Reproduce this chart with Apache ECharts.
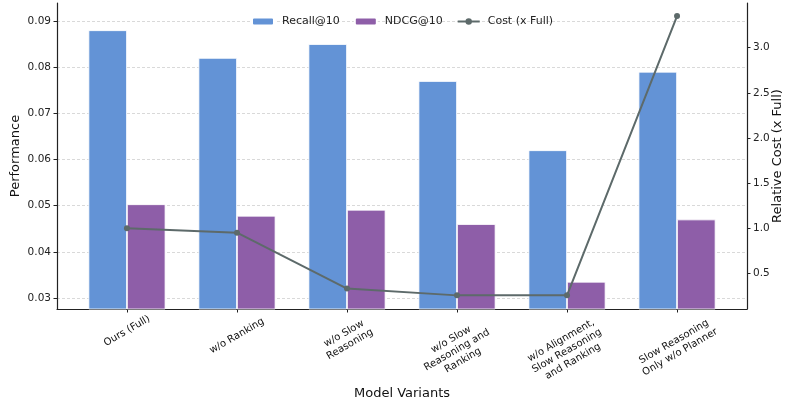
<!DOCTYPE html>
<html>
<head>
<meta charset="utf-8">
<script src="https://cdn.jsdelivr.net/npm/echarts@6/dist/echarts.min.js"></script>
<style>
  html, body { margin: 0; padding: 0; background: #fff; }
  #chart { width: 788px; height: 402px; }
</style>
</head>
<body>
<div id="chart"></div>
<script>
// data
var variants = [
  'Ours (Full)',
  'w/o Ranking',
  'w/o Slow\nReasoning',
  'w/o Slow\nReasoning and\nRanking',
  'w/o Alignment,\nSlow Reasoning\nand Ranking',
  'Slow Reasoning\nOnly w/o Planner'
];
var recall = [0.088, 0.082, 0.085, 0.077, 0.062, 0.079];
var ndcg = [0.0503, 0.0478, 0.0491, 0.046, 0.0335, 0.047];
var cost = [1.0, 0.95, 0.33, 0.255, 0.255, 3.35];
var perfTicks = [0.03, 0.04, 0.05, 0.06, 0.07, 0.08, 0.09];
var costTicks = [0.5, 1.0, 1.5, 2.0, 2.5, 3.0];

var FONT = 'DejaVu Sans';
// distance of each rotated label's centre below the axis (labels differ in size)
var labelMargins = [22, 27, 30, 41, 42, 38];
var idx = variants.map(function (v, i) { return i; });

var xAxes = [{
  type: 'value', min: -0.636, max: 5.636,
  name: 'Model Variants', nameLocation: 'middle', nameGap: 78, nameMoveOverlap: false,
  nameTextStyle: { fontFamily: FONT, fontSize: 13, color: '#111' },
  axisLine: { onZero: false, lineStyle: { color: '#222', width: 1.2 } },
  axisTick: { customValues: idx, length: 3.5, lineStyle: { color: '#222' } },
  axisLabel: { show: false },
  splitLine: { show: false }
}];
// one label-only axis per variant so every rotated label can sit at its own distance
idx.forEach(function (i) {
  xAxes.push({
    type: 'value', min: -0.636, max: 5.636, position: 'bottom',
    axisLine: { show: false, onZero: false }, axisTick: { show: false }, splitLine: { show: false },
    axisLabel: {
      customValues: [i], rotate: 30, margin: labelMargins[i],
      align: 'center', verticalAlign: 'middle', lineHeight: 12,
      fontFamily: FONT, fontSize: 10, color: '#111',
      formatter: function (v) { return variants[Math.round(v)]; }
    }
  });
});

var chart = echarts.init(document.getElementById('chart'));
chart.setOption({
  animation: false,
  grid: { left: 57, right: 41, top: 3, bottom: 93, containLabel: false, outerBoundsMode: 'none' },
  legend: {
    top: 11, left: 246,
    itemWidth: 22, itemHeight: 8, itemGap: 14,
    textStyle: { fontFamily: FONT, fontSize: 11, color: '#222', padding: [0, 0, 0, 3] },
    data: ['Recall@10', 'NDCG@10', 'Cost (x Full)']
  },
  xAxis: xAxes,
  yAxis: [{
    type: 'value', min: 0.0276, max: 0.0939, position: 'left',
    name: 'Performance', nameLocation: 'middle', nameGap: 35, nameMoveOverlap: false,
    nameTextStyle: { fontFamily: FONT, fontSize: 13, color: '#111' },
    axisLine: { show: true, onZero: false, lineStyle: { color: '#222', width: 1.2 } },
    axisTick: { show: true, customValues: perfTicks, length: 3.5, lineStyle: { color: '#222' } },
    axisLabel: {
      customValues: perfTicks, margin: 6,
      fontFamily: FONT, fontSize: 10.5, color: '#222',
      formatter: function (v) { return v.toFixed(2); }
    },
    splitLine: { show: true, lineStyle: { color: '#cfcfcf', width: 0.8, type: [3, 2] } }
  }, {
    type: 'value', min: 0.104, max: 3.495, position: 'right',
    name: 'Relative Cost (x Full)', nameLocation: 'middle', nameGap: 24, nameMoveOverlap: false,
    nameTextStyle: { fontFamily: FONT, fontSize: 13, color: '#111' },
    axisLine: { show: true, onZero: false, lineStyle: { color: '#222', width: 1.2 } },
    axisTick: { show: true, customValues: costTicks, length: 3.5, lineStyle: { color: '#222' } },
    axisLabel: {
      customValues: costTicks, margin: 6,
      fontFamily: FONT, fontSize: 10.5, color: '#222',
      formatter: function (v) { return v.toFixed(1); }
    },
    splitLine: { show: false }
  }],
  series: [{
    name: 'Recall@10', type: 'bar', xAxisIndex: 0, yAxisIndex: 0,
    barWidth: '35%', barGap: '0%',
    itemStyle: { color: '#6393d6', borderColor: '#fff', borderWidth: 0.8 },
    data: recall.map(function (v, i) { return [i, v]; })
  }, {
    name: 'NDCG@10', type: 'bar', xAxisIndex: 0, yAxisIndex: 0,
    barWidth: '35%', barGap: '0%',
    itemStyle: { color: '#8e5ea8', borderColor: '#fff', borderWidth: 0.8 },
    data: ndcg.map(function (v, i) { return [i, v]; })
  }, {
    name: 'Cost (x Full)', type: 'line', xAxisIndex: 0, yAxisIndex: 1,
    symbol: 'circle', symbolSize: 6, z: 5,
    lineStyle: { color: '#5d6a6a', width: 2 },
    itemStyle: { color: '#5d6a6a' },
    data: cost.map(function (v, i) { return [i, v]; })
  }]
});
</script>
</body>
</html>
